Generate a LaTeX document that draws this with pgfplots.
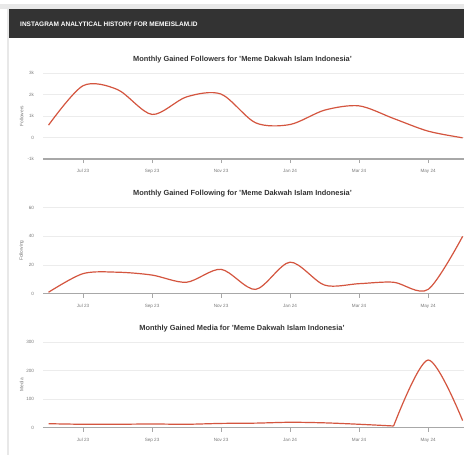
\documentclass[border=0pt]{standalone}
\usepackage{fontspec}
\setmainfont{Liberation Sans}
\usepackage{pgfplots}
\pgfplotsset{compat=1.18}
\definecolor{hdr}{HTML}{333333}
\definecolor{ln}{HTML}{D4553F}
\definecolor{tk}{HTML}{7A7A7A}
\definecolor{ax}{HTML}{A8A8A8}
\definecolor{gr}{HTML}{ECECEC}
\definecolor{band}{HTML}{E8E8E8}
\definecolor{ttl}{HTML}{333333}
\pgfplotsset{myax/.style={
  scale only axis, width=421pt, xmin=-0.16, xmax=12.04,
  axis x line*=bottom, axis y line*=left,
  y axis line style={draw=none},
  x axis line style={-, draw=ax, line width=1.1pt},
  xtick={1,3,5,7,9,11},
  xticklabels={Jul 23,Sep 23,Nov 23,Jan 24,Mar 24,May 24},
  tick align=outside, major tick length=4pt,
  xtick style={draw=ax, line width=0.8pt},
  ytick style={draw=none},
  ymajorgrids, grid style={draw=gr, line width=0.6pt},
  ticklabel style={font=\fontsize{4.6}{5.2}\selectfont, text=tk},
  xticklabel style={yshift=-3pt},
  yticklabel style={xshift=-1.5pt},
  /pgf/number format/assume math mode=true,
  ylabel style={at={(axis description cs:-0.0506,0.5)}, anchor=center, font=\fontsize{4.8}{5.4}\selectfont, text=tk},
}}
\pgfplotsset{redline/.style={draw=ln, line width=1.2pt, smooth, mark=none}}
\begin{document}
\begin{tikzpicture}[x=1pt,y=1pt]
\useasboundingbox (0,0) rectangle (464,-455);
\fill[white] (0,0) rectangle (464,-455);
\fill[band] (0,-4.3) rectangle (464,-9);
\fill[band] (7,-4.3) rectangle (9,-455);
\fill[hdr] (9,-9) rectangle (464,-38);
\node[anchor=west, text=white, font=\fontsize{6.5}{7}\selectfont\bfseries, inner sep=0] at (20,-24) {INSTAGRAM ANALYTICAL HISTORY FOR MEMEISLAM.ID};

\node[text=ttl, font=\fontsize{7.4}{8}\selectfont\bfseries, inner sep=0] at (242.5,-60) {Monthly Gained Followers for 'Meme Dakwah Islam Indonesia'};
\node[text=ttl, font=\fontsize{7.4}{8}\selectfont\bfseries, inner sep=0] at (242.5,-193.7) {Monthly Gained Following for 'Meme Dakwah Islam Indonesia'};
\node[text=ttl, font=\fontsize{7.4}{8}\selectfont\bfseries, inner sep=0] at (242,-328.3) {Monthly Gained Media for 'Meme Dakwah Islam Indonesia'};

\begin{axis}[myax, at={(43pt,-159pt)}, anchor=south west, height=85.7pt,
  ymin=-1000, ymax=3000, ytick={-1000,0,1000,2000,3000},
  yticklabels={-1k,0,1k,2k,3k}, ylabel={Followers}]
\addplot[redline] coordinates {(0,580) (1,2420) (2,2240) (3,1080) (4,1900) (5,2030) (6,690) (7,610) (8,1280) (9,1480) (10,890) (11,300) (12,-10)};
\end{axis}

\begin{axis}[myax, at={(43pt,-293.7pt)}, anchor=south west, height=86pt,
  ymin=0, ymax=60, ytick={0,20,40,60}, ylabel={Following}]
\addplot[redline] coordinates {(0,1) (1,14) (2,15) (3,13) (4,8) (5,17) (6,3) (7,22) (8,6) (9,7) (10,8) (11,3) (12,40)};
\end{axis}

\begin{axis}[myax, at={(43pt,-427.7pt)}, anchor=south west, height=85.7pt,
  ymin=0, ymax=300, ytick={0,100,200,300}, ylabel={Media}]
\addplot[redline] coordinates {(0,14) (1,12) (2,12) (3,13) (4,12) (5,15) (6,16) (7,19) (8,17) (9,12) (10,6)};
\addplot[redline] coordinates {(10,6) (11,237) (12,25)};
\end{axis}
\end{tikzpicture}
\end{document}
